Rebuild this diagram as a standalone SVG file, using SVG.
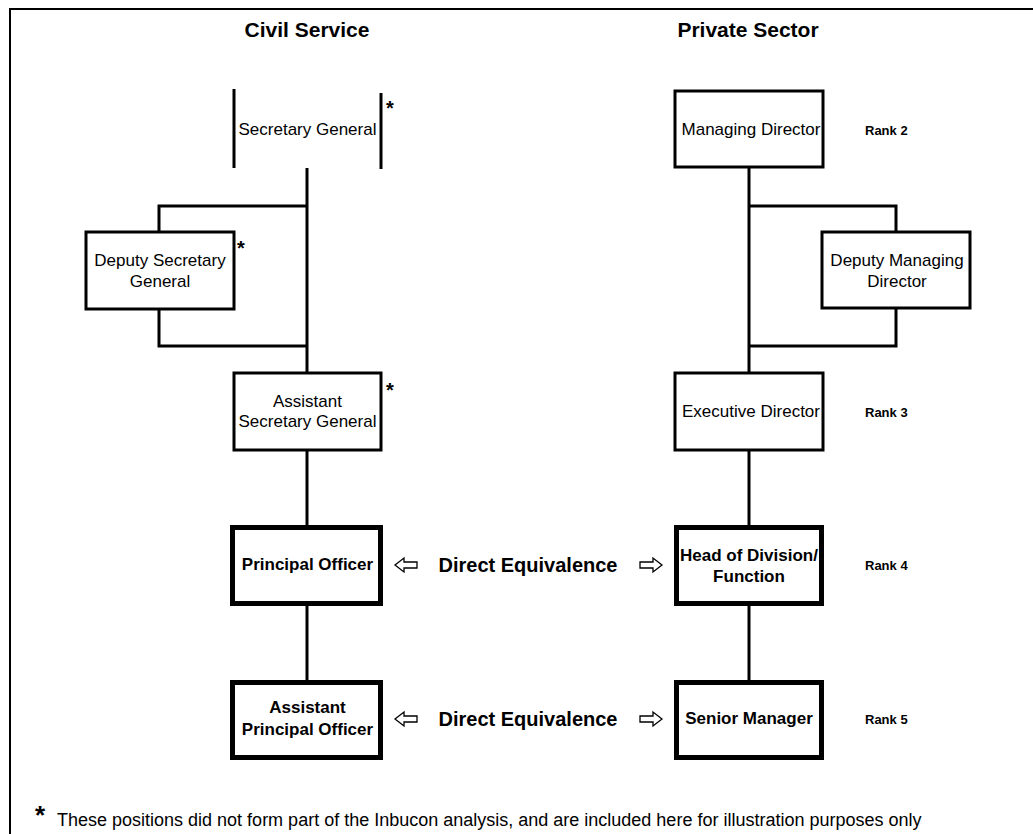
<svg xmlns="http://www.w3.org/2000/svg" width="1033" height="834" viewBox="0 0 1033 834">
<style>
text{font-family:"Liberation Sans",Arial,sans-serif;fill:#000}
.t{font-size:17px;text-anchor:middle}
.b{font-size:17px;font-weight:bold;text-anchor:middle}
.h{font-size:21px;font-weight:bold;text-anchor:middle}
.eq{font-size:20px;font-weight:bold;text-anchor:middle}
.rk{font-size:13px;font-weight:bold}
.st{font-size:20px;font-weight:bold}
.box{fill:#fff;stroke:#000;stroke-width:3}
.tbox{fill:#fff;stroke:#000;stroke-width:5}
.ln{fill:none;stroke:#000;stroke-width:3}
.ar{fill:#fff;stroke:#000;stroke-width:1.3;stroke-linejoin:miter}
</style>
<rect x="0" y="0" width="1033" height="834" fill="#fff"/>
<path d="M10,840 V9 H1040" fill="none" stroke="#000" stroke-width="2"/>
<text class="h" x="307" y="37">Civil Service</text>
<text class="h" x="748" y="37">Private Sector</text>
<g id="connectors">
<path class="ln" d="M307,168 V373 M307,206 H159 V232 M159,309 V346 H307 M307,450 V525 M307,606 V680"/>
<path class="ln" d="M749,167 V373 M749,206 H896 V232 M896,309 V346 H749 M749,450 V525 M749,605 V680"/>
</g>
<g id="secretary-general">
<path class="ln" d="M234,89 V168 M381,93 V169"/>
<text class="t" x="307.5" y="135">Secretary General</text>
<text class="st" x="386" y="115">*</text>
</g>
<g id="deputy-secretary-general">
<rect class="box" x="86" y="232" width="148" height="77"/>
<text class="t" x="160" y="266">Deputy Secretary</text>
<text class="t" x="160" y="287">General</text>
<text class="st" x="237" y="255">*</text>
</g>
<g id="assistant-secretary-general">
<rect class="box" x="234" y="373" width="147" height="77"/>
<text class="t" x="307.5" y="407">Assistant</text>
<text class="t" x="307.5" y="427">Secretary General</text>
<text class="st" x="386" y="397">*</text>
</g>
<g id="principal-officer">
<rect class="tbox" x="232.5" y="527.5" width="148" height="76"/>
<text class="b" x="307.5" y="570">Principal Officer</text>
</g>
<g id="assistant-principal-officer">
<rect class="tbox" x="232.5" y="682.5" width="148" height="75"/>
<text class="b" x="307.5" y="713">Assistant</text>
<text class="b" x="307.5" y="735">Principal Officer</text>
</g>
<g id="managing-director">
<rect class="box" x="675" y="91" width="148" height="76"/>
<text class="t" x="751" y="135">Managing Director</text>
</g>
<g id="deputy-managing-director">
<rect class="box" x="822" y="232" width="148" height="76"/>
<text class="t" x="897" y="266">Deputy Managing</text>
<text class="t" x="897" y="287">Director</text>
</g>
<g id="executive-director">
<rect class="box" x="675" y="373" width="148" height="77"/>
<text class="t" x="751" y="417">Executive Director</text>
</g>
<g id="head-of-division">
<rect class="tbox" x="676.5" y="527.5" width="145" height="76"/>
<text class="b" x="749" y="561">Head of Division/</text>
<text class="b" x="749" y="582">Function</text>
</g>
<g id="senior-manager">
<rect class="tbox" x="676.5" y="682.5" width="145" height="75"/>
<text class="b" x="749" y="724">Senior Manager</text>
</g>
<g id="equivalence-1">
<path class="ar" d="M395,565 L404,558 V562 H417 V568 H404 V572 Z"/>
<text class="eq" x="528" y="572">Direct Equivalence</text>
<path class="ar" d="M662,565 L653,558 V562 H640 V568 H653 V572 Z"/>
</g>
<g id="equivalence-2">
<path class="ar" d="M395,719 L404,712 V716 H417 V722 H404 V726 Z"/>
<text class="eq" x="528" y="726">Direct Equivalence</text>
<path class="ar" d="M662,719 L653,712 V716 H640 V722 H653 V726 Z"/>
</g>
<g id="ranks">
<text class="rk" x="865" y="135">Rank 2</text>
<text class="rk" x="865" y="417">Rank 3</text>
<text class="rk" x="865" y="570">Rank 4</text>
<text class="rk" x="865" y="724">Rank 5</text>
</g>
<g id="footnote">
<text x="35" y="824" style="font-size:26px;font-weight:bold">*</text>
<text x="57" y="826" style="font-size:18px">These positions did not form part of the Inbucon analysis, and are included here for illustration purposes only</text>
</g>
</svg>
